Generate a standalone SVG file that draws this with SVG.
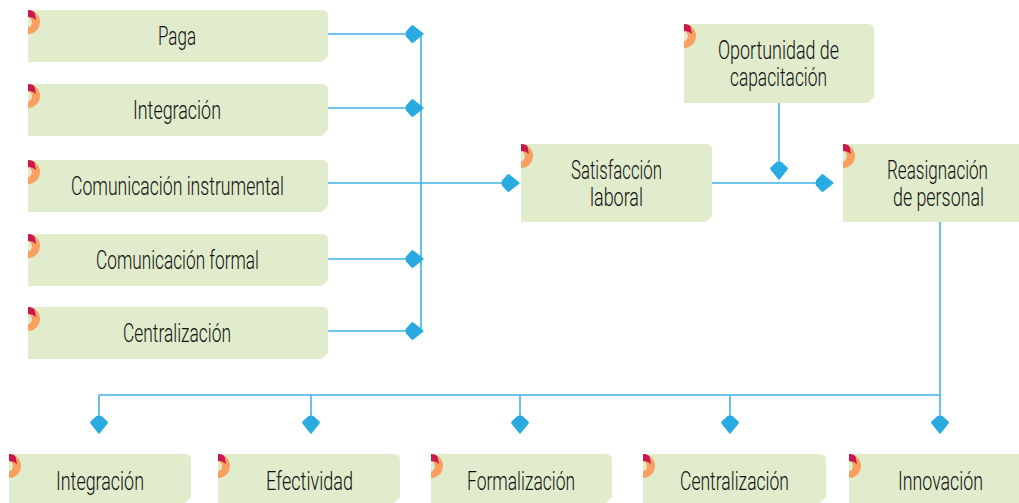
<svg xmlns="http://www.w3.org/2000/svg" width="1019" height="503" viewBox="0 0 1019 503">
<style>
.box{fill:#e1eccd}
.t{font-family:"Roboto","Liberation Sans",sans-serif;font-size:25px;font-weight:300;fill:#111;text-anchor:middle}
.line{fill:none;stroke:#3fb4ea;stroke-width:1.6}
.head{fill:#29abe2;stroke:#29abe2;stroke-width:1.500;stroke-linejoin:round}
</style>
<defs>
<g id="badge">
<path d="M0,-12A12,12 0 0 1 0,12L0,5.500A5.500,5.500 0 0 0 0,-5Z" fill="#f9a061"/>
<path d="M0,-12Q5,-12 6.500,-9.500L8,-2Q4,-5.500 0,-5Z" fill="#c9184f"/>
</g>
<path id="hd" class="head" d="M0,0L-10,-8L-11,-8L-16.500,-2L-16.500,2L-11,8L-10,8Z"/>
</defs>
<g id="connectors">
<path class="line" d="M328,34H410M328,108H410M328,259H410M328,331H410M421,34V332"/>
<path class="line" d="M328,183H507M712,183H822M779,103V167M940,222V420M99,395H940M99,395V420M311,395V420M520,395V420M730,395V420"/>
<use href="#hd" transform="translate(423,34)"/>
<use href="#hd" transform="translate(423,108)"/>
<use href="#hd" transform="translate(423,259)"/>
<use href="#hd" transform="translate(423,331)"/>
<use href="#hd" transform="translate(519,183)"/>
<use href="#hd" transform="translate(833,183)"/>
<use href="#hd" transform="translate(779,179) rotate(90)"/>
<use href="#hd" transform="translate(99,433) rotate(90)"/>
<use href="#hd" transform="translate(311,433) rotate(90)"/>
<use href="#hd" transform="translate(520,433) rotate(90)"/>
<use href="#hd" transform="translate(730,433) rotate(90)"/>
<use href="#hd" transform="translate(940,433) rotate(90)"/>
</g>
<g id="n-paga"><path class="box" d="M28,10H322Q328,10 328,16V56L322,62H28Z"/><use href="#badge" x="28" y="22"/><text class="t" x="177" y="45" textLength="38" lengthAdjust="spacingAndGlyphs">Paga</text></g>
<g id="n-integracion"><path class="box" d="M28,84H322Q328,84 328,90V130L322,136H28Z"/><use href="#badge" x="28" y="96"/><text class="t" x="177" y="119" textLength="88" lengthAdjust="spacingAndGlyphs">Integración</text></g>
<g id="n-instrumental"><path class="box" d="M28,160H322Q328,160 328,166V206L322,212H28Z"/><use href="#badge" x="28" y="172"/><text class="t" x="177.500" y="195" textLength="213" lengthAdjust="spacingAndGlyphs">Comunicación instrumental</text></g>
<g id="n-formal"><path class="box" d="M28,234H322Q328,234 328,240V280L322,286H28Z"/><use href="#badge" x="28" y="246"/><text class="t" x="177.500" y="269" textLength="163" lengthAdjust="spacingAndGlyphs">Comunicación formal</text></g>
<g id="n-centralizacion"><path class="box" d="M28,307H322Q328,307 328,313V353L322,359H28Z"/><use href="#badge" x="28" y="319"/><text class="t" x="177" y="342" textLength="108" lengthAdjust="spacingAndGlyphs">Centralización</text></g>
<g id="n-satisfaccion"><path class="box" d="M521,144H706Q712,144 712,150V216L706,222H521Z"/><use href="#badge" x="521" y="156"/><text class="t" x="616.500" y="179" textLength="91" lengthAdjust="spacingAndGlyphs">Satisfacción</text><text class="t" x="616.500" y="206" textLength="53" lengthAdjust="spacingAndGlyphs">laboral</text></g>
<g id="n-oportunidad"><path class="box" d="M684,24H868Q874,24 874,30V97L868,103H684Z"/><use href="#badge" x="684" y="36"/><text class="t" x="778.500" y="59" textLength="121" lengthAdjust="spacingAndGlyphs">Oportunidad de</text><text class="t" x="778.500" y="86" textLength="97" lengthAdjust="spacingAndGlyphs">capacitación</text></g>
<g id="n-reasignacion"><path class="box" d="M843,144H1019V222H843Z"/><use href="#badge" x="843" y="156"/><text class="t" x="937.500" y="179" textLength="101" lengthAdjust="spacingAndGlyphs">Reasignación</text><text class="t" x="938.500" y="206" textLength="91" lengthAdjust="spacingAndGlyphs">de personal</text></g>
<g id="b-integracion"><path class="box" d="M9,454H185Q191,454 191,460V497L185,503H9Z"/><use href="#badge" x="9" y="466"/><text class="t" x="100" y="490" textLength="88" lengthAdjust="spacingAndGlyphs">Integración</text></g>
<g id="b-efectividad"><path class="box" d="M218,454H394Q400,454 400,460V497L394,503H218Z"/><use href="#badge" x="218" y="466"/><text class="t" x="309.500" y="490" textLength="87" lengthAdjust="spacingAndGlyphs">Efectividad</text></g>
<g id="b-formalizacion"><path class="box" d="M431,454H606Q612,454 612,460V497L606,503H431Z"/><use href="#badge" x="431" y="466"/><text class="t" x="521" y="490" textLength="108" lengthAdjust="spacingAndGlyphs">Formalización</text></g>
<g id="b-centralizacion"><path class="box" d="M643,454H820Q826,454 826,460V497L820,503H643Z"/><use href="#badge" x="643" y="466"/><text class="t" x="734.500" y="490" textLength="109" lengthAdjust="spacingAndGlyphs">Centralización</text></g>
<g id="b-innovacion"><path class="box" d="M849,454H1019V503H849Z"/><use href="#badge" x="849" y="466"/><text class="t" x="940.500" y="490" textLength="85" lengthAdjust="spacingAndGlyphs">Innovación</text></g>
</svg>
